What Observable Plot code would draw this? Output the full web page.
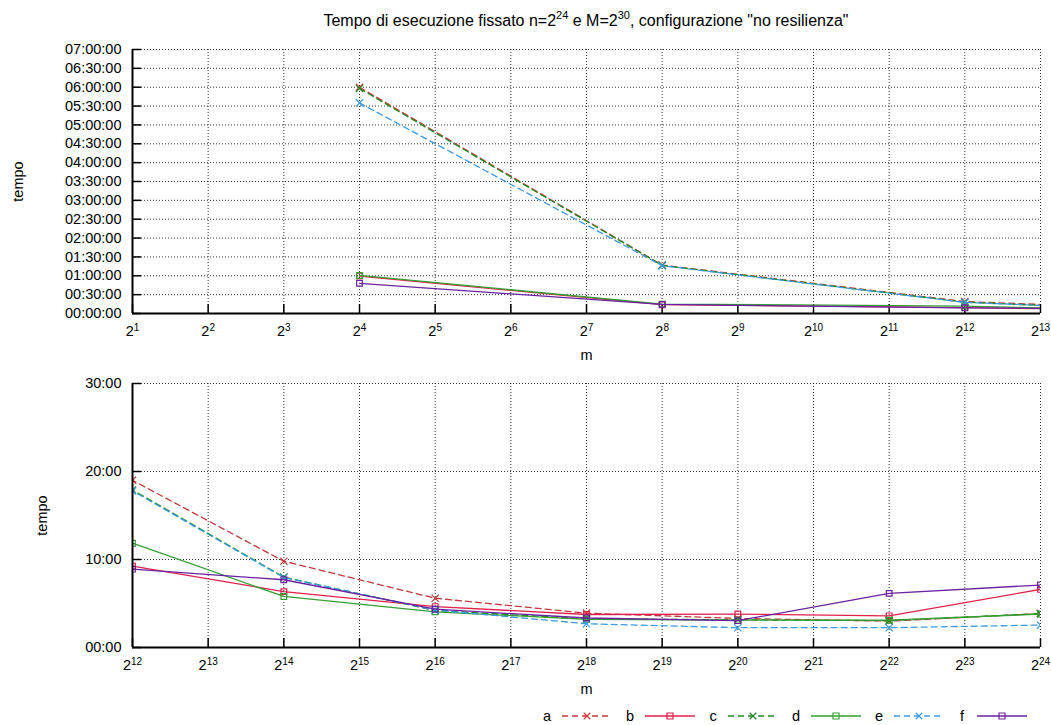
<!DOCTYPE html>
<html><head><meta charset="utf-8">
<script src="https://cdn.jsdelivr.net/npm/d3@7"></script>
<script src="https://cdn.jsdelivr.net/npm/@observablehq/plot@0.6"></script>
<style>
body{margin:0;background:#fff;font-family:"Liberation Sans",Arial,sans-serif;}
#wrap{position:relative;width:1051px;height:725px;overflow:hidden;}
#title{position:absolute;left:132px;width:908px;top:12px;text-align:center;font-size:16px;color:#000;}
#title sup{font-size:11px;vertical-align:7px;line-height:0;}
#top{position:absolute;left:0;top:36px;}
#bottom{position:absolute;left:0;top:370px;}
#legend{position:absolute;left:0;top:704px;}
svg{font-family:"Liberation Sans",Arial,sans-serif;}
</style></head>
<body><div id="wrap">
<div id="title">Tempo di esecuzione fissato n=2<sup>24</sup> e M=2<sup>30</sup>, configurazione "no resilienza"</div>
<div id="top"></div>
<div id="bottom"></div>
<div id="legend"></div>
</div>
<script>
// exponents of m = 2^k
const exps = [4, 8, 12, 14, 16, 18, 20, 22, 24];
const seriesNames = ["a", "b", "c", "d", "e", "f"];
// execution time, minutes
const a = [360, 77, 19.0, 9.8, 5.6, 3.9, 3.3, 3.0, 3.85];
const b = [59.5, 14, 9.25, 6.35, 4.65, 3.75, 3.8, 3.6, 6.6];
const c = [358, 76.5, 17.9, 8.0, 4.2, 3.25, 3.15, 3.05, 3.85];
const d = [60.5, 15, 11.85, 5.8, 4.05, 3.2, 3.1, 3.1, 3.8];
const e = [335, 76, 17.8, 7.95, 4.25, 2.7, 2.25, 2.25, 2.55];
const f = [48, 14.5, 8.9, 7.7, 4.35, 3.35, 3.05, 6.15, 7.1];
const seriesColors = ["#c43a3a", "#e3204c", "#1e8a1e", "#34a034", "#3a9ae6", "#6a22a0"];
const seriesDashed = [true, false, true, false, true, false];
const seriesSymbol = ["times", "square", "times", "square", "times", "square"];
// axes
const topXExps = [1,2,3,4,5,6,7,8,9,10,11,12,13];
const topYTicks = [0,30,60,90,120,150,180,210,240,270,300,330,360,390,420];
const botXExps = [12,13,14,15,16,17,18,19,20,21,22,23,24];
const botYTicks = [0,10,20,30];

const values = {a, b, c, d, e, f};
const rows = [];
seriesNames.forEach((s, si) => exps.forEach((k, i) => rows.push({s, si, m: 2 ** k, t: values[s][i]})));

const pad = n => String(n).padStart(2, "0");
const fmtTop = v => `${pad(Math.floor(v / 60))}:${pad(v % 60)}:00`;
const fmtBot = v => `${pad(v)}:00`;

const W = 1051, H = 334, mL = 132, mR = 11, mT = 13, mB = 57;
const plotH = H - mT - mB, plotW = W - mL - mR;

function makeChart(xExps, yTicks, yDomain, fmt, yLabelOffset) {
  const xTicks = xExps.map(k => 2 ** k);
  const marks = [
    Plot.gridX(xTicks, {stroke: "#000", strokeOpacity: 0.8, strokeDasharray: "1,2"}),
    Plot.gridY(yTicks, {stroke: "#000", strokeOpacity: 0.8, strokeDasharray: "1,2"}),
    Plot.ruleX(xTicks, {stroke: "#000", strokeWidth: 1.5, insetTop: plotH - 9}),
    Plot.ruleY(yTicks, {stroke: "#000", strokeWidth: 1.5, insetRight: plotW - 9}),
    Plot.axisX(xTicks, {tickSize: 0, tickPadding: 12, fontSize: 14.5, tickFormat: v => String(Math.round(Math.log2(v))),
      label: "m", labelAnchor: "center", labelOffset: 46, labelArrow: "none"}),
    Plot.axisY(yTicks, {tickSize: 0, tickPadding: 11, fontSize: 14.5, tickFormat: fmt,
      label: "tempo", labelAnchor: "center", labelOffset: yLabelOffset, labelArrow: "none"})
  ];
  seriesNames.forEach((s, si) => {
    const data = rows.filter(r => r.s === s);
    marks.push(Plot.line(data, {x: "m", y: "t", stroke: seriesColors[si], strokeWidth: 1.3,
      strokeDasharray: seriesDashed[si] ? "6,4" : null, clip: true}));
    marks.push(Plot.dot(data, {x: "m", y: "t", stroke: seriesColors[si], strokeWidth: 1.2, fill: "none",
      symbol: seriesSymbol[si], r: seriesSymbol[si] === "square" ? 3.2 : 3.4, clip: true}));
  });
  marks.push(Plot.ruleX([xTicks[0]], {stroke: "#000", strokeWidth: 2}));
  marks.push(Plot.ruleY([yDomain[0]], {stroke: "#000", strokeWidth: 2}));
  const svg = Plot.plot({
    width: W, height: H, marginLeft: mL, marginRight: mR, marginTop: mT, marginBottom: mB,
    style: {fontSize: "14.5px", fontFamily: "Liberation Sans, Arial, sans-serif", color: "#000", background: "#fff"},
    x: {type: "log", base: 2, domain: [xTicks[0], xTicks[xTicks.length - 1]]},
    y: {domain: yDomain},
    marks
  });
  d3.select(svg).selectAll('g[aria-label="x-axis tick label"] text').each(function() {
    const t = d3.select(this);
    const k = t.text();
    t.text("");
    t.append("tspan").text("2");
    t.append("tspan").attr("dy", "-0.5em").attr("font-size", "10px").text(k);
  });
  d3.select(svg).selectAll('g[aria-label="x-axis label"] text, g[aria-label="y-axis label"] text').each(function() {
    const t = d3.select(this);
    t.text(t.text().replace(/\s*[\u2190-\u2193]\s*/g, ""));
  });
  return svg;
}

document.getElementById("top").appendChild(makeChart(topXExps, topYTicks, [0, 420], fmtTop, 120));
document.getElementById("bottom").appendChild(makeChart(botXExps, botYTicks, [0, 30], fmtBot, 96));

// legend
const leg = d3.select("#legend").append("svg").attr("width", W).attr("height", 21)
  .style("font-family", "Liberation Sans, Arial, sans-serif").style("font-size", "14.5px");
const ly = 12;
seriesNames.forEach((s, si) => {
  const L = 547 + si * 83;
  const g = leg.append("g");
  g.append("text").attr("x", L).attr("y", ly).attr("dy", "0.35em").attr("text-anchor", "middle").text(s);
  g.append("line").attr("x1", L + 15).attr("x2", L + 65).attr("y1", ly).attr("y2", ly)
    .attr("stroke", seriesColors[si]).attr("stroke-width", 1.3)
    .attr("stroke-dasharray", seriesDashed[si] ? "6,4" : null);
  const sym = seriesSymbol[si] === "square" ? d3.symbolSquare : d3.symbolTimes;
  g.append("path").attr("transform", `translate(${L + 40},${ly})`)
    .attr("d", d3.symbol(sym, seriesSymbol[si] === "square" ? 36 : 30)())
    .attr("fill", "none").attr("stroke", seriesColors[si]).attr("stroke-width", 1.2);
});
</script>
</body></html>
